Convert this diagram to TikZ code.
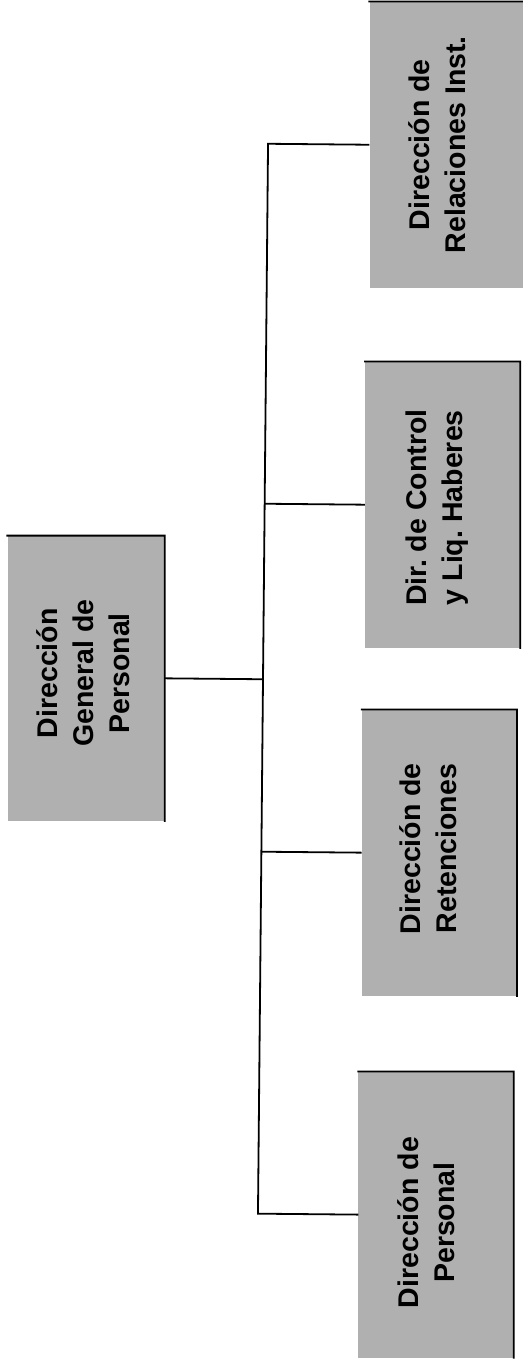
\documentclass[tikz,border=0pt]{standalone}
\usepackage{fontspec}
\setmainfont{Liberation Sans}
\begin{document}
\begin{tikzpicture}[x=1pt,y=-1pt,
  unitbox/.style={rectangle, fill=black!31, draw=none, inner sep=0pt,
    minimum width=155pt, minimum height=286pt},
  unitlabel/.style={rotate=90, align=center, inner sep=0pt,
    font=\bfseries\fontsize{28.5}{36}\selectfont},
  edge/.style={line width=1.8pt, line cap=rect},
  conn/.style={line width=1.8pt}]
  \fill[white] (0,0) rectangle (522,1362);
  \useasboundingbox (0,0) rectangle (522,1362);
  \begin{scope}[rotate around={-0.54:(263,680)}]
    % boxes
    \node[unitbox, minimum width=157pt, minimum height=285pt] (gen) at (86,680) {};
    \node[unitbox] (rel) at (442,143) {};
    \node[unitbox] (ctl) at (441,503) {};
    \node[unitbox] (ret) at (441,851) {};
    \node[unitbox] (per) at (441,1213) {};
    % dark top and right edges of each box
    \foreach \b in {gen,rel,ctl,ret,per}
      \draw[edge] (\b.north west) -- (\b.north east) -- (\b.south east);
    % labels (in the rotated frame: xshift runs along the text, yshift across it)
    \node[unitlabel, xshift=5pt, yshift=3pt] at (gen) {Dirección\\General de\\Personal};
    \node[unitlabel, yshift=10pt] at (rel) {Dirección de\\Relaciones Inst.};
    \node[unitlabel, xshift=-3pt, yshift=6pt] at (ctl) {Dir.\ de Control\\y Liq.\ Haberes};
    \node[unitlabel, xshift=4pt, yshift=11pt] at (ret) {Dirección de\\Retenciones};
    \node[unitlabel, xshift=-8pt, yshift=10pt] at (per) {Dirección de\\Personal};
    % connectors
    \coordinate (trunk) at (263,0);
    \draw[conn] (gen.east) -- (gen.east -| trunk);
    \draw[conn] (rel.west) -- (rel.west -| trunk) -- (per.west -| trunk) -- (per.west);
    \draw[conn] (ctl.west) -- (ctl.west -| trunk);
    \draw[conn] (ret.west) -- (ret.west -| trunk);
  \end{scope}
\end{tikzpicture}
\end{document}
